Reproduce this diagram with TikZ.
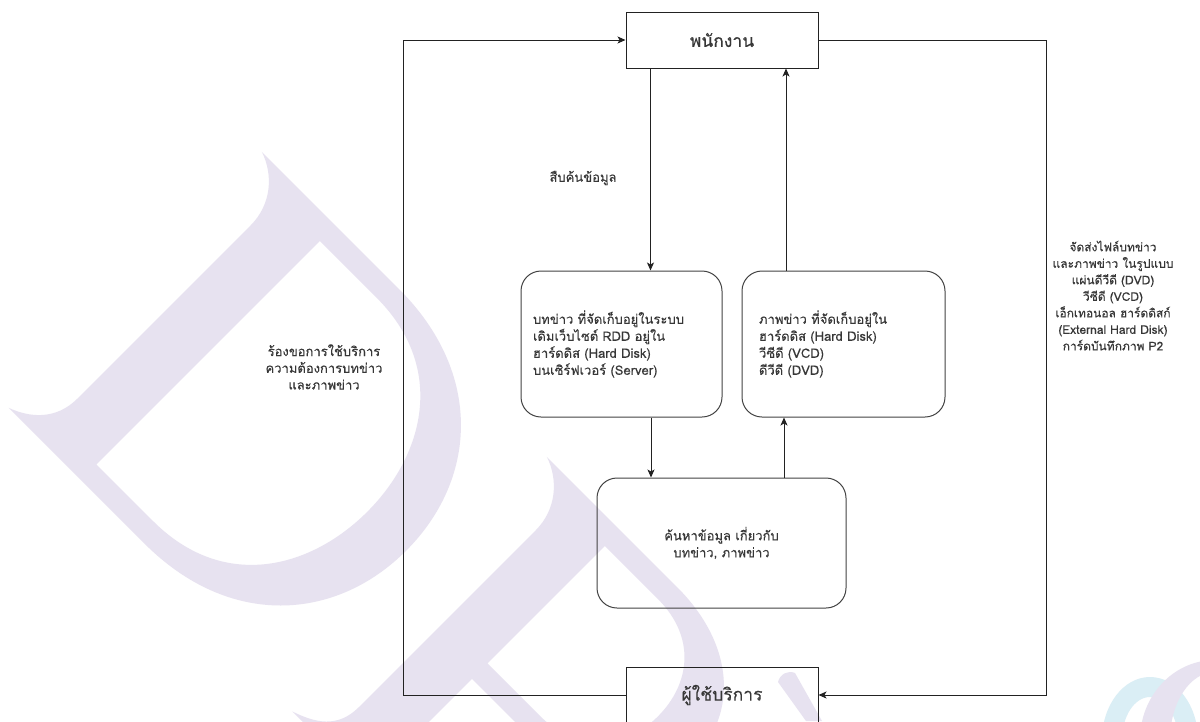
\documentclass[tikz,border=0pt]{standalone}
\usepackage{fontspec}
\setmainfont[Script=Thai, FakeBold=0.2]{Loma}
\usetikzlibrary{arrows.meta,calc}
\definecolor{wmlav}{RGB}{231,226,240}
\definecolor{wmblue}{RGB}{218,238,245}
\definecolor{ink}{RGB}{34,34,34}
\definecolor{txt}{RGB}{55,55,55}

\begin{document}
\begin{tikzpicture}[x=1pt,y=-1pt,
  flow/.style={draw=ink, line width=1pt, -{Stealth[length=8pt,width=7pt,inset=2pt]}},
  actor/.style={draw=ink, line width=1pt, minimum width=192pt, minimum height=56pt,
    inner sep=0pt, text=txt, font=\fontsize{17.5}{21}\selectfont},
  store/.style={draw=ink!85, line width=1pt, rounded corners=20pt, inner sep=0pt,
    text=txt, font=\fontsize{13}{17}\selectfont},
  note/.style={align=center, inner sep=0pt, text=txt, font=\fontsize{13}{16.8}\selectfont}]

\fill[white] (0,0) rectangle (1200,721);
\useasboundingbox (0,0) rectangle (1200,721);

% faint logo letters behind the diagram
\begin{scope}
  \clip (0,0) rectangle (1200,721);
  % letter D
  \begin{scope}[shift={(293,183)}, rotate=-45]
    \fill[wmlav, even odd rule]
      (-44,0) -- (150,0) .. controls (270,0) and (340,80) .. (340,180)
      .. controls (340,280) and (270,360) .. (150,360) -- (-42,360)
      .. controls (-20,352) and (0,335) .. (0,305) -- (0,60)
      .. controls (0,30) and (-20,8) .. (-44,0) -- cycle
      (60,22) -- (140,22) .. controls (240,22) and (285,100) .. (285,180)
      .. controls (285,260) and (240,338) .. (140,338) -- (60,338) -- cycle;
  \end{scope}
  % letter P
  \begin{scope}[shift={(578,488)}, rotate=-45]
    \fill[wmlav, even odd rule]
      (-44,0) -- (140,0) .. controls (225,0) and (272,50) .. (272,105)
      .. controls (272,165) and (225,210) .. (140,210) -- (60,210) -- (60,318)
      .. controls (60,345) and (80,355) .. (104,360) -- (-44,360)
      .. controls (-20,352) and (0,340) .. (0,310) -- (0,60)
      .. controls (0,30) and (-20,8) .. (-44,0) -- cycle
      (60,22) -- (135,22) .. controls (190,22) and (218,60) .. (218,105)
      .. controls (218,150) and (190,188) .. (135,188) -- (60,188) -- cycle;
  \end{scope}
  \fill[wmlav] (778,682) .. controls (780,674) and (788,670) .. (795,673)
    -- (822,721) -- (806,721) -- cycle;
  % round emblem in the corner
  \fill[wmblue, even odd rule] (1150,740) ellipse [x radius=48, y radius=63]
    (1150,740) ellipse [x radius=28, y radius=43];
  \fill[wmlav, even odd rule] (1215,740) ellipse [x radius=75, y radius=80]
    (1215,740) ellipse [x radius=45, y radius=68];
\end{scope}

% actors
\node[actor] (staff) at (722,40) {พนักงาน};
\node[actor] (user) at (722,695) {ผู้ใช้บริการ};

% data stores and search step
\node[store, minimum width=201pt, minimum height=146pt, text width=177pt, align=left]
  (news) at (621.5,344)
  {บทข่าว ที่จัดเก็บอยู่ในระบบ\\เดิมเว็บไซต์ RDD อยู่ใน\\ฮาร์ดดิส (Hard Disk)\\บนเซิร์ฟเวอร์ (Server)};
\node[store, minimum width=203pt, minimum height=146pt, text width=169pt, align=left]
  (media) at (843.5,344)
  {ภาพข่าว ที่จัดเก็บอยู่ใน\\ฮาร์ดดิส (Hard Disk)\\วีซีดี (VCD)\\ดีวีดี (DVD)};
\node[store, minimum width=249pt, minimum height=130pt, align=center]
  (search) at (721.5,543) {ค้นหาข้อมูล เกี่ยวกับ\\บทข่าว, ภาพข่าว};

% labels
\node[note] (lblsearch) at (583,178) {สืบค้นข้อมูล};
\node[note] (lblreq) at (324,367) {ร้องขอการใช้บริการ\\ความต้องการบทข่าว\\และภาพข่าว};
\node[note, font=\fontsize{12}{16.5}\selectfont] (lblsend) at (1113,295.5)
  {จัดส่งไฟล์บทข่าว\\และภาพข่าว ในรูปแบบ\\แผ่นดีวีดี (DVD)\\วีซีดี (VCD)\\เอ็กเทอนอล ฮาร์ดดิสก์\\(External Hard Disk)\\การ์ดบันทึกภาพ P2};

% connectors
\coordinate (westrail) at (403,0);
\coordinate (eastrail) at (1046,0);
\draw[flow] (user.west) -- (user.west -| westrail) |- (staff.west);
\draw[flow] (staff.east) -- (staff.east -| eastrail) |- (user.east);
\draw[flow] ([xshift=25pt]staff.south west) -- ([xshift=25pt]staff.south west |- news.north);
\draw[flow] ([xshift=29.5pt]news.south) -- ([xshift=29.5pt]news.south |- search.north);
\draw[flow] ([xshift=62.5pt]search.north) -- ([xshift=62.5pt]search.north |- media.south);
\draw[flow] ([xshift=-57.5pt]media.north) -- ([xshift=-57.5pt]media.north |- staff.south);
\end{tikzpicture}
\end{document}
